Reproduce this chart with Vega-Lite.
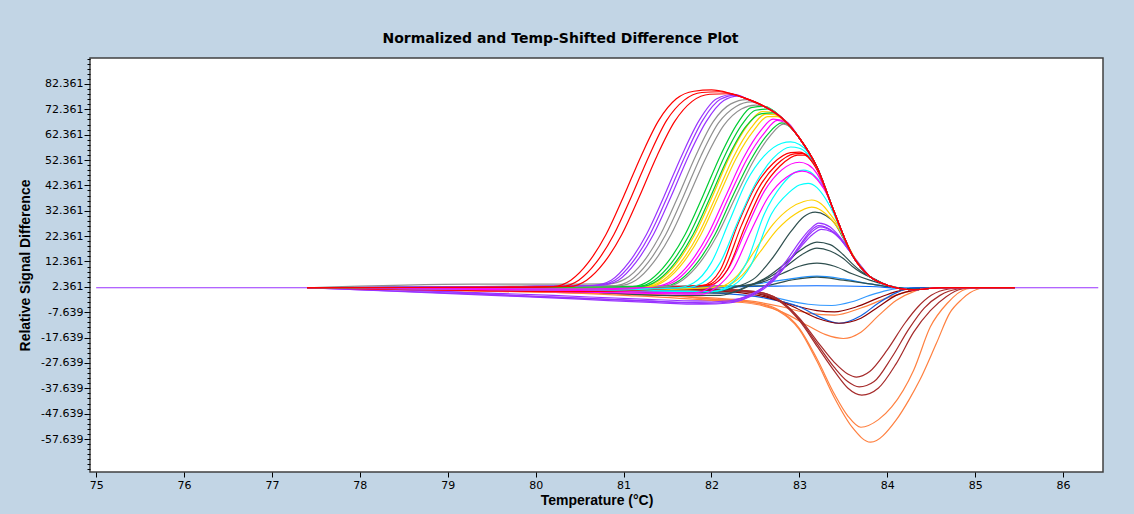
{
"$schema": "https://vega.github.io/schema/vega-lite/v6.json",
"width": 1013, "height": 414,
"autosize": {"type": "none"},
"padding": {"left": 90, "top": 58, "right": 31, "bottom": 42},
"background": "#C2D5E5",
"title": {"text": "Normalized and Temp-Shifted Difference Plot", "font": "DejaVu Sans", "fontSize": 14, "fontWeight": "bold", "color": "#000000", "anchor": "middle", "dx": -36, "offset": 12},
"config": {"view": {"stroke": "#404040", "strokeWidth": 1.5, "fill": "#FFFFFF"}, "axis": {"grid": false}},
"data": {"values": [
{"s":"M4","x":75,"y":2},{"s":"M4","x":77.4,"y":2},{"s":"M4","x":79,"y":0.5},{"s":"M4","x":80.2,"y":-1},{"s":"M4","x":81.2,"y":-2.5},{"s":"M4","x":81.9,"y":-3.2},{"s":"M4","x":82.3,"y":-2.5},{"s":"M4","x":82.5,"y":0},{"s":"M4","x":82.7,"y":5},{"s":"M4","x":82.9,"y":13},{"s":"M4","x":83.05,"y":19.5},{"s":"M4","x":83.15,"y":23},{"s":"M4","x":83.25,"y":25},{"s":"M4","x":83.37,"y":24},{"s":"M4","x":83.47,"y":21},{"s":"M4","x":83.57,"y":16.5},{"s":"M4","x":83.67,"y":12},{"s":"M4","x":83.8,"y":6.5},{"s":"M4","x":84,"y":3},{"s":"M4","x":84.3,"y":1.2},{"s":"M4","x":84.6,"y":2},{"s":"M4","x":85.45,"y":2},{"s":"M4","x":86.4,"y":2},
{"s":"P1","x":77.4,"y":2},{"s":"P1","x":81,"y":2},{"s":"P1","x":82,"y":1.5},{"s":"P1","x":82.5,"y":0},{"s":"P1","x":82.8,"y":-2.5},{"s":"P1","x":83.1,"y":-4.5},{"s":"P1","x":83.37,"y":-5},{"s":"P1","x":83.6,"y":-3.5},{"s":"P1","x":83.8,"y":-1},{"s":"P1","x":84,"y":1},{"s":"P1","x":84.2,"y":2},{"s":"P1","x":85.45,"y":2},
{"s":"P2","x":77.4,"y":2},{"s":"P2","x":80,"y":2},{"s":"P2","x":81.5,"y":1.5},{"s":"P2","x":82.3,"y":1},{"s":"P2","x":82.6,"y":-1},{"s":"P2","x":82.9,"y":-4.5},{"s":"P2","x":83.2,"y":-7},{"s":"P2","x":83.4,"y":-7.5},{"s":"P2","x":83.65,"y":-5.5},{"s":"P2","x":83.9,"y":-2},{"s":"P2","x":84.1,"y":0.5},{"s":"P2","x":84.4,"y":2},{"s":"P2","x":85.45,"y":2},
{"s":"P3","x":77.4,"y":2},{"s":"P3","x":80,"y":1},{"s":"P3","x":81,"y":-0.5},{"s":"P3","x":82,"y":-2},{"s":"P3","x":82.5,"y":-3.5},{"s":"P3","x":82.8,"y":-5.5},{"s":"P3","x":83.1,"y":-8},{"s":"P3","x":83.4,"y":-8.8},{"s":"P3","x":83.7,"y":-6},{"s":"P3","x":84,"y":-2},{"s":"P3","x":84.3,"y":1},{"s":"P3","x":84.5,"y":2},{"s":"P3","x":85.45,"y":2},
{"s":"P4","x":77.4,"y":2},{"s":"P4","x":81,"y":1},{"s":"P4","x":82,"y":0},{"s":"P4","x":82.6,"y":-2},{"s":"P4","x":83,"y":-5.5},{"s":"P4","x":83.2,"y":-9},{"s":"P4","x":83.45,"y":-12},{"s":"P4","x":83.7,"y":-9},{"s":"P4","x":83.9,"y":-4},{"s":"P4","x":84.1,"y":0},{"s":"P4","x":84.3,"y":2},{"s":"P4","x":85.45,"y":2},
{"s":"P5","x":77.4,"y":2},{"s":"P5","x":81,"y":2},{"s":"P5","x":82,"y":1},{"s":"P5","x":82.6,"y":-1.5},{"s":"P5","x":82.9,"y":-5},{"s":"P5","x":83.2,"y":-10},{"s":"P5","x":83.45,"y":-12},{"s":"P5","x":83.7,"y":-10},{"s":"P5","x":83.9,"y":-5.5},{"s":"P5","x":84.1,"y":-1},{"s":"P5","x":84.4,"y":1.5},{"s":"P5","x":84.6,"y":2},{"s":"P5","x":85.45,"y":2},
{"s":"P6","x":77.4,"y":2},{"s":"P6","x":80,"y":0.5},{"s":"P6","x":81,"y":-1},{"s":"P6","x":82,"y":-3},{"s":"P6","x":82.5,"y":-4.5},{"s":"P6","x":82.8,"y":-7.5},{"s":"P6","x":83.1,"y":-13},{"s":"P6","x":83.3,"y":-16.5},{"s":"P6","x":83.5,"y":-18},{"s":"P6","x":83.7,"y":-15.5},{"s":"P6","x":83.9,"y":-9},{"s":"P6","x":84.1,"y":-3},{"s":"P6","x":84.3,"y":0.5},{"s":"P6","x":84.5,"y":2},{"s":"P6","x":85.45,"y":2},
{"s":"Q1","x":77.4,"y":2},{"s":"Q1","x":81,"y":2},{"s":"Q1","x":82,"y":1.5},{"s":"Q1","x":82.5,"y":0.5},{"s":"Q1","x":82.8,"y":-3.5},{"s":"Q1","x":83,"y":-10},{"s":"Q1","x":83.2,"y":-19},{"s":"Q1","x":83.4,"y":-27.5},{"s":"Q1","x":83.55,"y":-32},{"s":"Q1","x":83.65,"y":-33.2},{"s":"Q1","x":83.8,"y":-31},{"s":"Q1","x":84,"y":-22.5},{"s":"Q1","x":84.2,"y":-12},{"s":"Q1","x":84.35,"y":-5.5},{"s":"Q1","x":84.5,"y":-1},{"s":"Q1","x":84.7,"y":1.5},{"s":"Q1","x":84.9,"y":2},{"s":"Q1","x":85.45,"y":2},
{"s":"Q2","x":77.4,"y":2},{"s":"Q2","x":81,"y":2},{"s":"Q2","x":82,"y":1.5},{"s":"Q2","x":82.5,"y":0.5},{"s":"Q2","x":82.8,"y":-3.5},{"s":"Q2","x":83,"y":-10.5},{"s":"Q2","x":83.2,"y":-20},{"s":"Q2","x":83.4,"y":-29.5},{"s":"Q2","x":83.55,"y":-35},{"s":"Q2","x":83.68,"y":-37.1},{"s":"Q2","x":83.85,"y":-35},{"s":"Q2","x":84.05,"y":-25.5},{"s":"Q2","x":84.25,"y":-14},{"s":"Q2","x":84.42,"y":-6},{"s":"Q2","x":84.6,"y":-1},{"s":"Q2","x":84.8,"y":1.5},{"s":"Q2","x":85,"y":2},{"s":"Q2","x":85.45,"y":2},
{"s":"Q3","x":77.4,"y":2},{"s":"Q3","x":81,"y":1.5},{"s":"Q3","x":82,"y":1},{"s":"Q3","x":82.5,"y":0},{"s":"Q3","x":82.8,"y":-4},{"s":"Q3","x":83,"y":-11},{"s":"Q3","x":83.2,"y":-21},{"s":"Q3","x":83.4,"y":-31},{"s":"Q3","x":83.55,"y":-37.5},{"s":"Q3","x":83.71,"y":-40.3},{"s":"Q3","x":83.9,"y":-37.5},{"s":"Q3","x":84.1,"y":-28},{"s":"Q3","x":84.3,"y":-15.5},{"s":"Q3","x":84.49,"y":-7},{"s":"Q3","x":84.67,"y":-1.5},{"s":"Q3","x":84.85,"y":1.5},{"s":"Q3","x":85.05,"y":2},{"s":"Q3","x":85.45,"y":2},
{"s":"R1","x":77.4,"y":2},{"s":"R1","x":80.5,"y":0},{"s":"R1","x":81.5,"y":-1},{"s":"R1","x":82,"y":-2.5},{"s":"R1","x":82.5,"y":-4},{"s":"R1","x":82.75,"y":-6.5},{"s":"R1","x":83,"y":-14},{"s":"R1","x":83.2,"y":-26},{"s":"R1","x":83.4,"y":-40},{"s":"R1","x":83.55,"y":-48.5},{"s":"R1","x":83.7,"y":-53},{"s":"R1","x":83.9,"y":-50},{"s":"R1","x":84.05,"y":-45},{"s":"R1","x":84.3,"y":-30.5},{"s":"R1","x":84.49,"y":-13.4},{"s":"R1","x":84.68,"y":-4.2},{"s":"R1","x":84.9,"y":1.5},{"s":"R1","x":85.05,"y":2},{"s":"R1","x":85.45,"y":2},
{"s":"R2","x":77.4,"y":2},{"s":"R2","x":80.5,"y":0},{"s":"R2","x":81.5,"y":-1},{"s":"R2","x":82,"y":-2.5},{"s":"R2","x":82.5,"y":-4},{"s":"R2","x":82.75,"y":-7},{"s":"R2","x":83,"y":-14.5},{"s":"R2","x":83.2,"y":-27},{"s":"R2","x":83.4,"y":-41.5},{"s":"R2","x":83.6,"y":-53},{"s":"R2","x":83.81,"y":-58.9},{"s":"R2","x":84.1,"y":-50.2},{"s":"R2","x":84.25,"y":-42},{"s":"R2","x":84.37,"y":-34.4},{"s":"R2","x":84.56,"y":-19.8},{"s":"R2","x":84.71,"y":-8},{"s":"R2","x":84.85,"y":-2.5},{"s":"R2","x":84.94,"y":0},{"s":"R2","x":85.09,"y":1.8},{"s":"R2","x":85.45,"y":2},
{"s":"O1","x":77.4,"y":2},{"s":"O1","x":82,"y":2},{"s":"O1","x":82.4,"y":3},{"s":"O1","x":82.7,"y":4.5},{"s":"O1","x":83,"y":6},{"s":"O1","x":83.2,"y":6.6},{"s":"O1","x":83.5,"y":5.5},{"s":"O1","x":83.8,"y":3.5},{"s":"O1","x":84,"y":2.5},{"s":"O1","x":84.3,"y":1.5},{"s":"O1","x":84.6,"y":2},{"s":"O1","x":85.45,"y":2},
{"s":"O2","x":77.4,"y":2},{"s":"O2","x":82,"y":2.3},{"s":"O2","x":82.6,"y":2.6},{"s":"O2","x":83.2,"y":2.8},{"s":"O2","x":83.8,"y":2.5},{"s":"O2","x":84.2,"y":1.8},{"s":"O2","x":85.45,"y":2},
{"s":"N1","x":77.4,"y":2},{"s":"N1","x":80.5,"y":0.5},{"s":"N1","x":81.5,"y":-1},{"s":"N1","x":82.1,"y":-1},{"s":"N1","x":82.4,"y":2.5},{"s":"N1","x":82.6,"y":5.5},{"s":"N1","x":82.8,"y":10.5},{"s":"N1","x":83,"y":16.5},{"s":"N1","x":83.2,"y":20},{"s":"N1","x":83.35,"y":19},{"s":"N1","x":83.5,"y":15},{"s":"N1","x":83.6,"y":11.5},{"s":"N1","x":83.7,"y":8.5},{"s":"N1","x":83.85,"y":5.5},{"s":"N1","x":84,"y":3},{"s":"N1","x":84.3,"y":1.2},{"s":"N1","x":84.6,"y":2},{"s":"N1","x":85.45,"y":2},
{"s":"N2","x":77.4,"y":2},{"s":"N2","x":80.5,"y":1},{"s":"N2","x":81.5,"y":0},{"s":"N2","x":82.2,"y":0},{"s":"N2","x":82.45,"y":3},{"s":"N2","x":82.65,"y":6},{"s":"N2","x":82.85,"y":10.5},{"s":"N2","x":83.05,"y":15.5},{"s":"N2","x":83.2,"y":17.6},{"s":"N2","x":83.35,"y":16.5},{"s":"N2","x":83.5,"y":13.5},{"s":"N2","x":83.6,"y":10.5},{"s":"N2","x":83.7,"y":8},{"s":"N2","x":83.85,"y":5.5},{"s":"N2","x":84,"y":3},{"s":"N2","x":84.3,"y":1.2},{"s":"N2","x":84.6,"y":2},{"s":"N2","x":85.45,"y":2},
{"s":"N3","x":77.4,"y":2},{"s":"N3","x":81,"y":1},{"s":"N3","x":82,"y":0.5},{"s":"N3","x":82.3,"y":2.5},{"s":"N3","x":82.6,"y":4.5},{"s":"N3","x":82.8,"y":7.5},{"s":"N3","x":83,"y":10.5},{"s":"N3","x":83.2,"y":11.7},{"s":"N3","x":83.4,"y":10.5},{"s":"N3","x":83.6,"y":7.5},{"s":"N3","x":83.8,"y":5},{"s":"N3","x":84,"y":3},{"s":"N3","x":84.3,"y":1.2},{"s":"N3","x":84.6,"y":2},{"s":"N3","x":85.45,"y":2},
{"s":"N4","x":77.4,"y":2},{"s":"N4","x":82.6,"y":2.8},{"s":"N4","x":82.9,"y":5},{"s":"N4","x":83.2,"y":6.2},{"s":"N4","x":83.5,"y":5},{"s":"N4","x":83.8,"y":3.5},{"s":"N4","x":84,"y":2.5},{"s":"N4","x":84.3,"y":1.5},{"s":"N4","x":84.6,"y":2},{"s":"N4","x":85.45,"y":2},
{"s":"M1","x":77.4,"y":2},{"s":"M1","x":78.5,"y":0.5},{"s":"M1","x":79.5,"y":-1},{"s":"M1","x":80.5,"y":-2.5},{"s":"M1","x":81.3,"y":-3.8},{"s":"M1","x":81.9,"y":-4.5},{"s":"M1","x":82.2,"y":-4},{"s":"M1","x":82.45,"y":-1},{"s":"M1","x":82.65,"y":4},{"s":"M1","x":82.85,"y":12.5},{"s":"M1","x":83,"y":20},{"s":"M1","x":83.12,"y":25},{"s":"M1","x":83.22,"y":27.5},{"s":"M1","x":83.35,"y":26},{"s":"M1","x":83.45,"y":22.5},{"s":"M1","x":83.55,"y":18},{"s":"M1","x":83.65,"y":12.5},{"s":"M1","x":83.8,"y":6.5},{"s":"M1","x":84,"y":3},{"s":"M1","x":84.3,"y":1.2},{"s":"M1","x":84.6,"y":2},{"s":"M1","x":85.45,"y":2},
{"s":"M2","x":77.4,"y":2},{"s":"M2","x":78.6,"y":0.5},{"s":"M2","x":79.6,"y":-0.8},{"s":"M2","x":80.6,"y":-2.2},{"s":"M2","x":81.4,"y":-3.5},{"s":"M2","x":81.95,"y":-4.2},{"s":"M2","x":82.25,"y":-3.5},{"s":"M2","x":82.5,"y":-0.5},{"s":"M2","x":82.7,"y":4.5},{"s":"M2","x":82.88,"y":12.5},{"s":"M2","x":83.02,"y":19.5},{"s":"M2","x":83.13,"y":24.5},{"s":"M2","x":83.22,"y":26.5},{"s":"M2","x":83.35,"y":25},{"s":"M2","x":83.45,"y":22},{"s":"M2","x":83.55,"y":17.5},{"s":"M2","x":83.65,"y":12.5},{"s":"M2","x":83.8,"y":6.5},{"s":"M2","x":84,"y":3},{"s":"M2","x":84.3,"y":1.2},{"s":"M2","x":84.6,"y":2},{"s":"M2","x":85.45,"y":2},
{"s":"M3","x":77.4,"y":2},{"s":"M3","x":78.8,"y":0.8},{"s":"M3","x":80,"y":-1.5},{"s":"M3","x":81,"y":-2.8},{"s":"M3","x":81.8,"y":-3.8},{"s":"M3","x":82.2,"y":-3.2},{"s":"M3","x":82.45,"y":-0.5},{"s":"M3","x":82.68,"y":4.5},{"s":"M3","x":82.87,"y":12},{"s":"M3","x":83.02,"y":19},{"s":"M3","x":83.14,"y":24},{"s":"M3","x":83.24,"y":26},{"s":"M3","x":83.36,"y":24.5},{"s":"M3","x":83.46,"y":21.5},{"s":"M3","x":83.56,"y":17},{"s":"M3","x":83.66,"y":12},{"s":"M3","x":83.8,"y":6.5},{"s":"M3","x":84,"y":3},{"s":"M3","x":84.3,"y":1.2},{"s":"M3","x":84.6,"y":2},{"s":"M3","x":85.45,"y":2},
{"s":"L1","x":77.4,"y":2},{"s":"L1","x":81,"y":1},{"s":"L1","x":82,"y":0.5},{"s":"L1","x":82.3,"y":2.5},{"s":"L1","x":82.5,"y":6},{"s":"L1","x":82.7,"y":14},{"s":"L1","x":82.9,"y":24},{"s":"L1","x":83.05,"y":30},{"s":"L1","x":83.18,"y":31.8},{"s":"L1","x":83.3,"y":30.5},{"s":"L1","x":83.4,"y":27.5},{"s":"L1","x":83.5,"y":21.5},{"s":"L1","x":83.6,"y":15},{"s":"L1","x":83.8,"y":6.5},{"s":"L1","x":84,"y":3},{"s":"L1","x":84.3,"y":1.2},{"s":"L1","x":84.6,"y":2},{"s":"L1","x":85.45,"y":2},
{"s":"K1","x":77.4,"y":2},{"s":"K1","x":81.5,"y":1.5},{"s":"K1","x":82.1,"y":2.5},{"s":"K1","x":82.3,"y":7},{"s":"K1","x":82.5,"y":17},{"s":"K1","x":82.7,"y":27},{"s":"K1","x":82.9,"y":33.5},{"s":"K1","x":83.05,"y":36},{"s":"K1","x":83.14,"y":36.6},{"s":"K1","x":83.25,"y":35},{"s":"K1","x":83.35,"y":31},{"s":"K1","x":83.45,"y":26},{"s":"K1","x":83.55,"y":19},{"s":"K1","x":83.65,"y":12.5},{"s":"K1","x":83.8,"y":6.5},{"s":"K1","x":84,"y":3},{"s":"K1","x":84.3,"y":1.2},{"s":"K1","x":84.6,"y":2},{"s":"K1","x":85.45,"y":2},
{"s":"K2","x":77.4,"y":2},{"s":"K2","x":81.5,"y":1.5},{"s":"K2","x":82.15,"y":2.5},{"s":"K2","x":82.35,"y":7},{"s":"K2","x":82.55,"y":16},{"s":"K2","x":82.75,"y":25},{"s":"K2","x":82.95,"y":31},{"s":"K2","x":83.14,"y":33.8},{"s":"K2","x":83.25,"y":32.5},{"s":"K2","x":83.35,"y":29.5},{"s":"K2","x":83.45,"y":25},{"s":"K2","x":83.55,"y":18.5},{"s":"K2","x":83.65,"y":12.5},{"s":"K2","x":83.8,"y":6.5},{"s":"K2","x":84,"y":3},{"s":"K2","x":84.3,"y":1.2},{"s":"K2","x":84.6,"y":2},{"s":"K2","x":85.45,"y":2},
{"s":"J1","x":77.4,"y":2},{"s":"J1","x":81,"y":1},{"s":"J1","x":82,"y":0.5},{"s":"J1","x":82.2,"y":3},{"s":"J1","x":82.4,"y":12},{"s":"J1","x":82.6,"y":31},{"s":"J1","x":82.8,"y":42.5},{"s":"J1","x":82.95,"y":47.5},{"s":"J1","x":83.05,"y":48.4},{"s":"J1","x":83.15,"y":47},{"s":"J1","x":83.25,"y":43},{"s":"J1","x":83.33,"y":38},{"s":"J1","x":83.4,"y":31.5},{"s":"J1","x":83.6,"y":15},{"s":"J1","x":83.8,"y":6.5},{"s":"J1","x":84,"y":3},{"s":"J1","x":84.3,"y":1.2},{"s":"J1","x":84.6,"y":2},{"s":"J1","x":85.45,"y":2},
{"s":"J2","x":77.4,"y":2},{"s":"J2","x":81,"y":1},{"s":"J2","x":82,"y":0.5},{"s":"J2","x":82.25,"y":3},{"s":"J2","x":82.45,"y":11},{"s":"J2","x":82.68,"y":31},{"s":"J2","x":82.88,"y":39.5},{"s":"J2","x":83,"y":42.5},{"s":"J2","x":83.1,"y":43.2},{"s":"J2","x":83.2,"y":41.5},{"s":"J2","x":83.3,"y":37},{"s":"J2","x":83.4,"y":30.5},{"s":"J2","x":83.5,"y":22},{"s":"J2","x":83.6,"y":15},{"s":"J2","x":83.8,"y":6.5},{"s":"J2","x":84,"y":3},{"s":"J2","x":84.3,"y":1.2},{"s":"J2","x":84.6,"y":2},{"s":"J2","x":85.45,"y":2},
{"s":"I1","x":77.4,"y":2},{"s":"I1","x":81,"y":0.5},{"s":"I1","x":81.8,"y":0},{"s":"I1","x":82,"y":2.5},{"s":"I1","x":82.2,"y":10},{"s":"I1","x":82.4,"y":25.5},{"s":"I1","x":82.6,"y":40},{"s":"I1","x":82.8,"y":48.5},{"s":"I1","x":83,"y":51.5},{"s":"I1","x":83.1,"y":50.5},{"s":"I1","x":83.2,"y":47},{"s":"I1","x":83.3,"y":40},{"s":"I1","x":83.4,"y":31.5},{"s":"I1","x":83.6,"y":15},{"s":"I1","x":83.8,"y":6.5},{"s":"I1","x":84,"y":3},{"s":"I1","x":84.3,"y":1.2},{"s":"I1","x":84.6,"y":2},{"s":"I1","x":85.45,"y":2},
{"s":"I2","x":77.4,"y":2},{"s":"I2","x":81,"y":0},{"s":"I2","x":81.9,"y":-0.5},{"s":"I2","x":82.05,"y":2},{"s":"I2","x":82.25,"y":9.5},{"s":"I2","x":82.45,"y":24.5},{"s":"I2","x":82.65,"y":38},{"s":"I2","x":82.85,"y":45.5},{"s":"I2","x":83.03,"y":48},{"s":"I2","x":83.13,"y":47},{"s":"I2","x":83.23,"y":43.5},{"s":"I2","x":83.32,"y":38.5},{"s":"I2","x":83.4,"y":31.5},{"s":"I2","x":83.6,"y":15},{"s":"I2","x":83.8,"y":6.5},{"s":"I2","x":84,"y":3},{"s":"I2","x":84.3,"y":1.2},{"s":"I2","x":84.6,"y":2},{"s":"I2","x":85.45,"y":2},
{"s":"H1","x":77.4,"y":2},{"s":"H1","x":80.5,"y":1.5},{"s":"H1","x":81.9,"y":3},{"s":"H1","x":82.1,"y":9},{"s":"H1","x":82.3,"y":27},{"s":"H1","x":82.5,"y":42},{"s":"H1","x":82.7,"y":51},{"s":"H1","x":82.9,"y":55.3},{"s":"H1","x":83,"y":55.5},{"s":"H1","x":83.1,"y":53.5},{"s":"H1","x":83.2,"y":48.5},{"s":"H1","x":83.3,"y":40.5},{"s":"H1","x":83.4,"y":31.5},{"s":"H1","x":83.6,"y":15},{"s":"H1","x":83.8,"y":6.5},{"s":"H1","x":84,"y":3},{"s":"H1","x":84.3,"y":1.2},{"s":"H1","x":84.6,"y":2},{"s":"H1","x":85.45,"y":2},
{"s":"H2","x":77.4,"y":2},{"s":"H2","x":80.5,"y":1},{"s":"H2","x":81.94,"y":3},{"s":"H2","x":82.14,"y":9},{"s":"H2","x":82.34,"y":26.5},{"s":"H2","x":82.54,"y":41.5},{"s":"H2","x":82.74,"y":50.5},{"s":"H2","x":82.94,"y":54.8},{"s":"H2","x":83.04,"y":55},{"s":"H2","x":83.14,"y":52.5},{"s":"H2","x":83.22,"y":48},{"s":"H2","x":83.3,"y":40.5},{"s":"H2","x":83.4,"y":31.5},{"s":"H2","x":83.6,"y":15},{"s":"H2","x":83.8,"y":6.5},{"s":"H2","x":84,"y":3},{"s":"H2","x":84.3,"y":1.2},{"s":"H2","x":84.6,"y":2},{"s":"H2","x":85.45,"y":2},
{"s":"H3","x":77.4,"y":2},{"s":"H3","x":80.5,"y":0.5},{"s":"H3","x":81.98,"y":3},{"s":"H3","x":82.18,"y":9},{"s":"H3","x":82.38,"y":26},{"s":"H3","x":82.58,"y":41},{"s":"H3","x":82.78,"y":50},{"s":"H3","x":82.98,"y":54.3},{"s":"H3","x":83.06,"y":54.3},{"s":"H3","x":83.15,"y":51.5},{"s":"H3","x":83.22,"y":47.5},{"s":"H3","x":83.3,"y":40.5},{"s":"H3","x":83.4,"y":31.5},{"s":"H3","x":83.6,"y":15},{"s":"H3","x":83.8,"y":6.5},{"s":"H3","x":84,"y":3},{"s":"H3","x":84.3,"y":1.2},{"s":"H3","x":84.6,"y":2},{"s":"H3","x":85.45,"y":2},
{"s":"G1","x":77.4,"y":2},{"s":"G1","x":80.5,"y":1.5},{"s":"G1","x":81.6,"y":2},{"s":"G1","x":81.8,"y":4},{"s":"G1","x":82,"y":12},{"s":"G1","x":82.2,"y":28},{"s":"G1","x":82.4,"y":44},{"s":"G1","x":82.6,"y":54},{"s":"G1","x":82.8,"y":59},{"s":"G1","x":82.9,"y":59.5},{"s":"G1","x":83,"y":58.5},{"s":"G1","x":83.1,"y":55.5},{"s":"G1","x":83.2,"y":49.5},{"s":"G1","x":83.4,"y":31.5},{"s":"G1","x":83.6,"y":15},{"s":"G1","x":83.8,"y":6.5},{"s":"G1","x":84,"y":3},{"s":"G1","x":84.3,"y":1.2},{"s":"G1","x":84.6,"y":2},{"s":"G1","x":85.45,"y":2},
{"s":"G2","x":77.4,"y":2},{"s":"G2","x":80.5,"y":1},{"s":"G2","x":81.7,"y":2},{"s":"G2","x":81.9,"y":4},{"s":"G2","x":82.1,"y":12},{"s":"G2","x":82.3,"y":28},{"s":"G2","x":82.5,"y":43},{"s":"G2","x":82.7,"y":53},{"s":"G2","x":82.9,"y":57.5},{"s":"G2","x":83,"y":57},{"s":"G2","x":83.1,"y":54.5},{"s":"G2","x":83.2,"y":49.5},{"s":"G2","x":83.4,"y":31.5},{"s":"G2","x":83.6,"y":15},{"s":"G2","x":83.8,"y":6.5},{"s":"G2","x":84,"y":3},{"s":"G2","x":84.3,"y":1.2},{"s":"G2","x":84.6,"y":2},{"s":"G2","x":85.45,"y":2},
{"s":"F1","x":77.4,"y":2},{"s":"F1","x":80.5,"y":1.5},{"s":"F1","x":81.36,"y":2.5},{"s":"F1","x":81.56,"y":5},{"s":"F1","x":81.76,"y":12},{"s":"F1","x":81.96,"y":23},{"s":"F1","x":82.16,"y":38},{"s":"F1","x":82.36,"y":53},{"s":"F1","x":82.56,"y":64},{"s":"F1","x":82.7,"y":68.5},{"s":"F1","x":82.85,"y":67.5},{"s":"F1","x":83,"y":61},{"s":"F1","x":83.2,"y":49.5},{"s":"F1","x":83.4,"y":31.5},{"s":"F1","x":83.6,"y":15},{"s":"F1","x":83.8,"y":6.5},{"s":"F1","x":84,"y":3},{"s":"F1","x":84.3,"y":1.2},{"s":"F1","x":84.6,"y":2},{"s":"F1","x":85.45,"y":2},
{"s":"F2","x":77.4,"y":2},{"s":"F2","x":80.5,"y":1},{"s":"F2","x":81.4,"y":2.5},{"s":"F2","x":81.6,"y":5},{"s":"F2","x":81.8,"y":12},{"s":"F2","x":82,"y":23},{"s":"F2","x":82.2,"y":38},{"s":"F2","x":82.4,"y":52.5},{"s":"F2","x":82.6,"y":63},{"s":"F2","x":82.75,"y":68},{"s":"F2","x":82.9,"y":65.5},{"s":"F2","x":83,"y":61},{"s":"F2","x":83.2,"y":49.5},{"s":"F2","x":83.4,"y":31.5},{"s":"F2","x":83.6,"y":15},{"s":"F2","x":83.8,"y":6.5},{"s":"F2","x":84,"y":3},{"s":"F2","x":84.3,"y":1.2},{"s":"F2","x":84.6,"y":2},{"s":"F2","x":85.45,"y":2},
{"s":"F3","x":77.4,"y":2},{"s":"F3","x":81.44,"y":2.5},{"s":"F3","x":81.64,"y":5},{"s":"F3","x":81.84,"y":12},{"s":"F3","x":82.04,"y":23},{"s":"F3","x":82.24,"y":38},{"s":"F3","x":82.44,"y":52},{"s":"F3","x":82.64,"y":62.5},{"s":"F3","x":82.8,"y":67},{"s":"F3","x":82.92,"y":64.5},{"s":"F3","x":83,"y":61},{"s":"F3","x":83.2,"y":49.5},{"s":"F3","x":83.4,"y":31.5},{"s":"F3","x":83.6,"y":15},{"s":"F3","x":83.8,"y":6.5},{"s":"F3","x":84,"y":3},{"s":"F3","x":84.3,"y":1.2},{"s":"F3","x":84.6,"y":2},{"s":"F3","x":85.45,"y":2},
{"s":"F4","x":77.4,"y":2},{"s":"F4","x":81.47,"y":2.5},{"s":"F4","x":81.67,"y":5},{"s":"F4","x":81.87,"y":12},{"s":"F4","x":82.07,"y":23},{"s":"F4","x":82.27,"y":37.5},{"s":"F4","x":82.47,"y":51.5},{"s":"F4","x":82.67,"y":62},{"s":"F4","x":82.82,"y":66.5},{"s":"F4","x":82.94,"y":64},{"s":"F4","x":83,"y":61},{"s":"F4","x":83.2,"y":49.5},{"s":"F4","x":83.4,"y":31.5},{"s":"F4","x":83.6,"y":15},{"s":"F4","x":83.8,"y":6.5},{"s":"F4","x":84,"y":3},{"s":"F4","x":84.3,"y":1.2},{"s":"F4","x":84.6,"y":2},{"s":"F4","x":85.45,"y":2},
{"s":"E1","x":77.4,"y":2},{"s":"E1","x":81.21,"y":2.5},{"s":"E1","x":81.41,"y":5},{"s":"E1","x":81.61,"y":12},{"s":"E1","x":81.81,"y":23},{"s":"E1","x":82.01,"y":38},{"s":"E1","x":82.21,"y":54},{"s":"E1","x":82.41,"y":66},{"s":"E1","x":82.58,"y":71.5},{"s":"E1","x":82.7,"y":71.2},{"s":"E1","x":82.8,"y":69},{"s":"E1","x":83,"y":61},{"s":"E1","x":83.2,"y":49.5},{"s":"E1","x":83.4,"y":31.5},{"s":"E1","x":83.6,"y":15},{"s":"E1","x":83.8,"y":6.5},{"s":"E1","x":84,"y":3},{"s":"E1","x":84.3,"y":1.2},{"s":"E1","x":84.6,"y":2},{"s":"E1","x":85.45,"y":2},
{"s":"E2","x":77.4,"y":2},{"s":"E2","x":81.25,"y":2.5},{"s":"E2","x":81.45,"y":5},{"s":"E2","x":81.65,"y":12},{"s":"E2","x":81.85,"y":23},{"s":"E2","x":82.05,"y":38},{"s":"E2","x":82.25,"y":53.5},{"s":"E2","x":82.45,"y":65},{"s":"E2","x":82.62,"y":70.5},{"s":"E2","x":82.72,"y":70.3},{"s":"E2","x":82.8,"y":69},{"s":"E2","x":83,"y":61},{"s":"E2","x":83.2,"y":49.5},{"s":"E2","x":83.4,"y":31.5},{"s":"E2","x":83.6,"y":15},{"s":"E2","x":83.8,"y":6.5},{"s":"E2","x":84,"y":3},{"s":"E2","x":84.3,"y":1.2},{"s":"E2","x":84.6,"y":2},{"s":"E2","x":85.45,"y":2},
{"s":"E3","x":77.4,"y":2},{"s":"E3","x":81.28,"y":2.5},{"s":"E3","x":81.48,"y":5},{"s":"E3","x":81.68,"y":12},{"s":"E3","x":81.88,"y":23},{"s":"E3","x":82.08,"y":38},{"s":"E3","x":82.28,"y":53},{"s":"E3","x":82.48,"y":64},{"s":"E3","x":82.64,"y":69.5},{"s":"E3","x":82.75,"y":69.5},{"s":"E3","x":82.85,"y":67},{"s":"E3","x":83,"y":61},{"s":"E3","x":83.2,"y":49.5},{"s":"E3","x":83.4,"y":31.5},{"s":"E3","x":83.6,"y":15},{"s":"E3","x":83.8,"y":6.5},{"s":"E3","x":84,"y":3},{"s":"E3","x":84.3,"y":1.2},{"s":"E3","x":84.6,"y":2},{"s":"E3","x":85.45,"y":2},
{"s":"D1","x":77.4,"y":2},{"s":"D1","x":80,"y":2.2},{"s":"D1","x":81.1,"y":2.5},{"s":"D1","x":81.3,"y":5},{"s":"D1","x":81.5,"y":12},{"s":"D1","x":81.7,"y":23},{"s":"D1","x":81.9,"y":38},{"s":"D1","x":82.1,"y":54},{"s":"D1","x":82.3,"y":67},{"s":"D1","x":82.45,"y":73},{"s":"D1","x":82.6,"y":73.5},{"s":"D1","x":82.8,"y":69},{"s":"D1","x":83,"y":61},{"s":"D1","x":83.2,"y":49.5},{"s":"D1","x":83.4,"y":31.5},{"s":"D1","x":83.6,"y":15},{"s":"D1","x":83.8,"y":6.5},{"s":"D1","x":84,"y":3},{"s":"D1","x":84.3,"y":1.2},{"s":"D1","x":84.6,"y":2},{"s":"D1","x":85.45,"y":2},
{"s":"D2","x":77.4,"y":2},{"s":"D2","x":81.15,"y":2.5},{"s":"D2","x":81.35,"y":5},{"s":"D2","x":81.55,"y":12},{"s":"D2","x":81.75,"y":23},{"s":"D2","x":81.95,"y":38},{"s":"D2","x":82.15,"y":54},{"s":"D2","x":82.35,"y":66.5},{"s":"D2","x":82.5,"y":72},{"s":"D2","x":82.65,"y":72.5},{"s":"D2","x":82.8,"y":69},{"s":"D2","x":83,"y":61},{"s":"D2","x":83.2,"y":49.5},{"s":"D2","x":83.4,"y":31.5},{"s":"D2","x":83.6,"y":15},{"s":"D2","x":83.8,"y":6.5},{"s":"D2","x":84,"y":3},{"s":"D2","x":84.3,"y":1.2},{"s":"D2","x":84.6,"y":2},{"s":"D2","x":85.45,"y":2},
{"s":"D3","x":77.4,"y":2},{"s":"D3","x":81.19,"y":2.5},{"s":"D3","x":81.39,"y":5},{"s":"D3","x":81.59,"y":12},{"s":"D3","x":81.79,"y":23},{"s":"D3","x":81.99,"y":38},{"s":"D3","x":82.19,"y":53.5},{"s":"D3","x":82.39,"y":65.5},{"s":"D3","x":82.55,"y":70.5},{"s":"D3","x":82.7,"y":71},{"s":"D3","x":82.8,"y":69},{"s":"D3","x":83,"y":61},{"s":"D3","x":83.2,"y":49.5},{"s":"D3","x":83.4,"y":31.5},{"s":"D3","x":83.6,"y":15},{"s":"D3","x":83.8,"y":6.5},{"s":"D3","x":84,"y":3},{"s":"D3","x":84.3,"y":1.2},{"s":"D3","x":84.6,"y":2},{"s":"D3","x":85.45,"y":2},
{"s":"C1","x":77.4,"y":2},{"s":"C1","x":79.3,"y":3.4},{"s":"C1","x":80.5,"y":3.4},{"s":"C1","x":80.82,"y":3.5},{"s":"C1","x":81.02,"y":5.5},{"s":"C1","x":81.22,"y":12},{"s":"C1","x":81.42,"y":23},{"s":"C1","x":81.62,"y":38},{"s":"C1","x":81.82,"y":54},{"s":"C1","x":82.02,"y":67.5},{"s":"C1","x":82.22,"y":74.5},{"s":"C1","x":82.4,"y":76.2},{"s":"C1","x":82.6,"y":73.5},{"s":"C1","x":82.8,"y":69},{"s":"C1","x":83,"y":61},{"s":"C1","x":83.2,"y":49.5},{"s":"C1","x":83.4,"y":31.5},{"s":"C1","x":83.6,"y":15},{"s":"C1","x":83.8,"y":6.5},{"s":"C1","x":84,"y":3},{"s":"C1","x":84.3,"y":1.2},{"s":"C1","x":84.6,"y":2},{"s":"C1","x":85.45,"y":2},
{"s":"C2","x":77.4,"y":2},{"s":"C2","x":80.88,"y":2.8},{"s":"C2","x":81.08,"y":5},{"s":"C2","x":81.28,"y":12},{"s":"C2","x":81.48,"y":23},{"s":"C2","x":81.68,"y":38},{"s":"C2","x":81.88,"y":54},{"s":"C2","x":82.08,"y":67},{"s":"C2","x":82.28,"y":73.5},{"s":"C2","x":82.45,"y":75.3},{"s":"C2","x":82.6,"y":73.5},{"s":"C2","x":82.8,"y":69},{"s":"C2","x":83,"y":61},{"s":"C2","x":83.2,"y":49.5},{"s":"C2","x":83.4,"y":31.5},{"s":"C2","x":83.6,"y":15},{"s":"C2","x":83.8,"y":6.5},{"s":"C2","x":84,"y":3},{"s":"C2","x":84.3,"y":1.2},{"s":"C2","x":84.6,"y":2},{"s":"C2","x":85.45,"y":2},
{"s":"C3","x":77.4,"y":2},{"s":"C3","x":80.94,"y":2.8},{"s":"C3","x":81.14,"y":5},{"s":"C3","x":81.34,"y":12},{"s":"C3","x":81.54,"y":23},{"s":"C3","x":81.74,"y":38},{"s":"C3","x":81.94,"y":53.5},{"s":"C3","x":82.14,"y":66},{"s":"C3","x":82.34,"y":72.5},{"s":"C3","x":82.5,"y":74},{"s":"C3","x":82.6,"y":73.5},{"s":"C3","x":82.8,"y":69},{"s":"C3","x":83,"y":61},{"s":"C3","x":83.2,"y":49.5},{"s":"C3","x":83.4,"y":31.5},{"s":"C3","x":83.6,"y":15},{"s":"C3","x":83.8,"y":6.5},{"s":"C3","x":84,"y":3},{"s":"C3","x":84.3,"y":1.2},{"s":"C3","x":84.6,"y":2},{"s":"C3","x":85.45,"y":2},
{"s":"B1","x":77.4,"y":2},{"s":"B1","x":79.8,"y":2.5},{"s":"B1","x":80.66,"y":3},{"s":"B1","x":80.86,"y":5},{"s":"B1","x":81.06,"y":12},{"s":"B1","x":81.26,"y":23},{"s":"B1","x":81.46,"y":38},{"s":"B1","x":81.66,"y":54},{"s":"B1","x":81.86,"y":68},{"s":"B1","x":82.06,"y":76.5},{"s":"B1","x":82.26,"y":78.3},{"s":"B1","x":82.4,"y":76.5},{"s":"B1","x":82.6,"y":73.5},{"s":"B1","x":82.8,"y":69},{"s":"B1","x":83,"y":61},{"s":"B1","x":83.2,"y":49.5},{"s":"B1","x":83.4,"y":31.5},{"s":"B1","x":83.6,"y":15},{"s":"B1","x":83.8,"y":6.5},{"s":"B1","x":84,"y":3},{"s":"B1","x":84.3,"y":1.2},{"s":"B1","x":84.6,"y":2},{"s":"B1","x":85.45,"y":2},
{"s":"B2","x":77.4,"y":2},{"s":"B2","x":79.8,"y":2.5},{"s":"B2","x":80.7,"y":3},{"s":"B2","x":80.9,"y":5},{"s":"B2","x":81.1,"y":12},{"s":"B2","x":81.3,"y":23},{"s":"B2","x":81.5,"y":38},{"s":"B2","x":81.7,"y":54},{"s":"B2","x":81.9,"y":68},{"s":"B2","x":82.1,"y":76.3},{"s":"B2","x":82.28,"y":78},{"s":"B2","x":82.4,"y":76.5},{"s":"B2","x":82.6,"y":73.5},{"s":"B2","x":82.8,"y":69},{"s":"B2","x":83,"y":61},{"s":"B2","x":83.2,"y":49.5},{"s":"B2","x":83.4,"y":31.5},{"s":"B2","x":83.6,"y":15},{"s":"B2","x":83.8,"y":6.5},{"s":"B2","x":84,"y":3},{"s":"B2","x":84.3,"y":1.2},{"s":"B2","x":84.6,"y":2},{"s":"B2","x":85.45,"y":2},
{"s":"B3","x":77.4,"y":2},{"s":"B3","x":79.9,"y":2.5},{"s":"B3","x":80.74,"y":3},{"s":"B3","x":80.94,"y":5},{"s":"B3","x":81.14,"y":12},{"s":"B3","x":81.34,"y":23},{"s":"B3","x":81.54,"y":38},{"s":"B3","x":81.74,"y":54},{"s":"B3","x":81.94,"y":67.5},{"s":"B3","x":82.14,"y":75.8},{"s":"B3","x":82.3,"y":77.6},{"s":"B3","x":82.4,"y":76.5},{"s":"B3","x":82.6,"y":73.5},{"s":"B3","x":82.8,"y":69},{"s":"B3","x":83,"y":61},{"s":"B3","x":83.2,"y":49.5},{"s":"B3","x":83.4,"y":31.5},{"s":"B3","x":83.6,"y":15},{"s":"B3","x":83.8,"y":6.5},{"s":"B3","x":84,"y":3},{"s":"B3","x":84.3,"y":1.2},{"s":"B3","x":84.6,"y":2},{"s":"B3","x":85.45,"y":2},
{"s":"A1","x":77.4,"y":2},{"s":"A1","x":79.6,"y":2.2},{"s":"A1","x":80.2,"y":2.5},{"s":"A1","x":80.4,"y":5},{"s":"A1","x":80.6,"y":12},{"s":"A1","x":80.8,"y":23},{"s":"A1","x":81,"y":38},{"s":"A1","x":81.2,"y":54},{"s":"A1","x":81.4,"y":68},{"s":"A1","x":81.6,"y":76.5},{"s":"A1","x":81.8,"y":79.5},{"s":"A1","x":82,"y":80},{"s":"A1","x":82.2,"y":78.8},{"s":"A1","x":82.4,"y":76.5},{"s":"A1","x":82.6,"y":73.5},{"s":"A1","x":82.8,"y":69},{"s":"A1","x":83,"y":61},{"s":"A1","x":83.2,"y":49.5},{"s":"A1","x":83.4,"y":31.5},{"s":"A1","x":83.6,"y":15},{"s":"A1","x":83.8,"y":6.5},{"s":"A1","x":84,"y":3},{"s":"A1","x":84.3,"y":1.2},{"s":"A1","x":84.6,"y":2},{"s":"A1","x":85.45,"y":2},
{"s":"A2","x":77.4,"y":2},{"s":"A2","x":79.7,"y":2.2},{"s":"A2","x":80.29,"y":2.5},{"s":"A2","x":80.49,"y":5},{"s":"A2","x":80.69,"y":12},{"s":"A2","x":80.89,"y":23},{"s":"A2","x":81.09,"y":38},{"s":"A2","x":81.29,"y":54},{"s":"A2","x":81.49,"y":68},{"s":"A2","x":81.69,"y":76},{"s":"A2","x":81.89,"y":79},{"s":"A2","x":82.09,"y":79.3},{"s":"A2","x":82.25,"y":78.3},{"s":"A2","x":82.4,"y":76.6},{"s":"A2","x":82.6,"y":73.6},{"s":"A2","x":82.8,"y":69},{"s":"A2","x":83,"y":61.2},{"s":"A2","x":83.2,"y":49.5},{"s":"A2","x":83.4,"y":31.6},{"s":"A2","x":83.6,"y":15},{"s":"A2","x":83.8,"y":6.5},{"s":"A2","x":84,"y":3},{"s":"A2","x":84.3,"y":1.2},{"s":"A2","x":84.6,"y":2},{"s":"A2","x":85.45,"y":2},
{"s":"A3","x":77.4,"y":2},{"s":"A3","x":79.8,"y":2.2},{"s":"A3","x":80.38,"y":2.5},{"s":"A3","x":80.58,"y":5},{"s":"A3","x":80.78,"y":12},{"s":"A3","x":80.98,"y":23},{"s":"A3","x":81.18,"y":38},{"s":"A3","x":81.38,"y":54},{"s":"A3","x":81.58,"y":67.5},{"s":"A3","x":81.78,"y":75.5},{"s":"A3","x":81.98,"y":78.3},{"s":"A3","x":82.18,"y":78.5},{"s":"A3","x":82.4,"y":76.5},{"s":"A3","x":82.6,"y":73.5},{"s":"A3","x":82.8,"y":69},{"s":"A3","x":83,"y":61},{"s":"A3","x":83.2,"y":49.5},{"s":"A3","x":83.4,"y":31.5},{"s":"A3","x":83.6,"y":15},{"s":"A3","x":83.8,"y":6.5},{"s":"A3","x":84,"y":3},{"s":"A3","x":84.3,"y":1.2},{"s":"A3","x":84.6,"y":2},{"s":"A3","x":85.45,"y":2}
]},
"encoding": {
"x": {"field": "x", "type": "quantitative", "scale": {"domain": [74.93, 86.454], "nice": false, "zero": false},
 "axis": {"values": [75,76,77,78,79,80,81,82,83,84,85,86], "format": "d", "title": "Temperature (°C)", "titleFont": "Liberation Sans", "titleFontSize": 14, "titleFontWeight": "bold", "titleColor": "#000000", "titlePadding": 3, "labelFont": "DejaVu Sans", "labelFontSize": 11, "labelColor": "#000000", "labelPadding": 2, "tickColor": "#000000", "tickSize": 5, "domain": false, "grid": false}}
},
"layer": [
{"mark": {"type": "line", "strokeWidth": 1.2, "interpolate": "monotone"},
 "encoding": {
 "y": {"field": "y", "type": "quantitative", "scale": {"domain": [-70.65, 92.6], "nice": false, "zero": false},
  "axis": {"orient": "left", "values": [-57.639,-47.639,-37.639,-27.639,-17.639,-7.639,2.361,12.361,22.361,32.361,42.361,52.361,62.361,72.361,82.361], "labelExpr": "replace(format(datum.value, '.3f'), '\u2212', '-')", "title": "Relative Signal Difference", "titleFont": "Liberation Sans", "titleFontSize": 14, "titleFontWeight": "bold", "titleColor": "#000000", "titlePadding": 8, "labelFont": "DejaVu Sans", "labelFontSize": 11, "labelColor": "#000000", "labelPadding": 1, "tickColor": "#000000", "tickSize": 6, "domain": false, "grid": false}},
 "color": {"field": "s", "type": "nominal", "legend": null, "scale": {
  "domain": ["M4","P1","P2","P3","P4","P5","P6","Q1","Q2","Q3","R1","R2","O1","O2","N1","N2","N3","N4","M1","M2","M3","L1","K1","K2","J1","J2","I1","I2","H1","H2","H3","G1","G2","F1","F2","F3","F4","E1","E2","E3","D1","D2","D3","C1","C2","C3","B1","B2","B3","A1","A2","A3"],
  "range": ["#9933FF","#3399FF","#8B0000","#FF8040","#1060E0","#8B0000","#FF8040","#A52A2A","#A52A2A","#A52A2A","#FF8040","#FF8040","#1E90FF","#0066FF","#2F4F4F","#2F4F4F","#2F4F4F","#2F4F4F","#9933FF","#9933FF","#9933FF","#2F4F4F","#FFD000","#FFD000","#00FFFF","#00FFFF","#FF00FF","#FF00FF","#FF0000","#FF0000","#FF0000","#00FFFF","#00FFFF","#FF00FF","#FF00FF","#00CC33","#909090","#FFD000","#FFD000","#FFD000","#00CC33","#00CC33","#00CC33","#909090","#909090","#909090","#9933FF","#9933FF","#9933FF","#FF0000","#FF0000","#FF0000"]}}
 }},
{"mark": {"type": "line", "strokeOpacity": 0},
 "encoding": {
 "detail": {"field": "s"},
 "y": {"field": "y", "type": "quantitative",
  "axis": {"orient": "left", "values": [-69.639,-67.639,-65.639,-63.639,-61.639,-59.639,-55.639,-53.639,-51.639,-49.639,-45.639,-43.639,-41.639,-39.639,-35.639,-33.639,-31.639,-29.639,-25.639,-23.639,-21.639,-19.639,-15.639,-13.639,-11.639,-9.639,-5.639,-3.639,-1.639,0.361,4.361,6.361,8.361,10.361,14.361,16.361,18.361,20.361,24.361,26.361,28.361,30.361,34.361,36.361,38.361,40.361,44.361,46.361,48.361,50.361,54.361,56.361,58.361,60.361,64.361,66.361,68.361,70.361,74.361,76.361,78.361,80.361,84.361,86.361,88.361,90.361,92.361], "labels": false, "title": null, "tickColor": "#000000", "tickSize": 3, "domain": false, "grid": false}}
 }}
],
"resolve": {"axis": {"y": "independent"}}
}
